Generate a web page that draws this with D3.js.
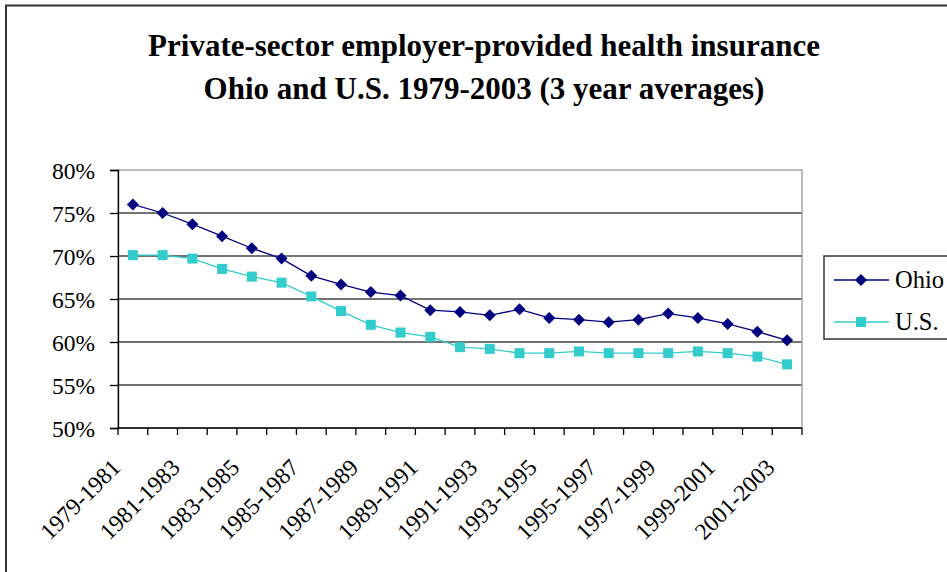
<!DOCTYPE html>
<html><head><meta charset="utf-8">
<script src="https://cdn.jsdelivr.net/npm/d3@7"></script>
<style>html,body{margin:0;padding:0;background:#fff;}svg{display:block;}</style>
</head><body>
<script>
const categories = ["1979-1981","1980-1982","1981-1983","1982-1984","1983-1985","1984-1986","1985-1987","1986-1988","1987-1989","1988-1990","1989-1991","1990-1992","1991-1993","1992-1994","1993-1995","1994-1996","1995-1997","1996-1998","1997-1999","1998-2000","1999-2001","2000-2002","2001-2003"];
const ohio = [76.0,75.0,73.7,72.3,70.9,69.7,67.7,66.7,65.8,65.4,63.7,63.5,63.1,63.8,62.8,62.6,62.3,62.6,63.3,62.8,62.1,61.2,60.2];
const us = [70.1,70.1,69.7,68.5,67.6,66.9,65.3,63.6,62.0,61.1,60.6,59.4,59.2,58.7,58.7,58.9,58.7,58.7,58.7,58.9,58.7,58.3,57.4];
const yTicks = [50,55,60,65,70,75,80];
const titleLines = ["Private-sector employer-provided health insurance","Ohio and U.S. 1979-2003 (3 year averages)"];
const seriesNames = ["Ohio","U.S."];

const W=947,H=572;
const font = "'Liberation Serif','Times New Roman',serif";
const svg = d3.select("body").append("svg").attr("width",W).attr("height",H);
svg.append("rect").attr("width",W).attr("height",H).attr("fill","#fff");
// outer border
svg.append("path").attr("d",`M6,${H+5} L6,5.5 L${W+5},5.5`).attr("fill","none").attr("stroke","#333").attr("stroke-width",2);

const L=118,R=802,T=170,B=428;
const x = d3.scaleBand().domain(categories).range([L,R]);
const y = d3.scaleLinear().domain([50,80]).range([B,T]);
const cx = d => x(d)+x.bandwidth()/2;

// gridlines
svg.append("g").selectAll("line").data(yTicks.filter(v=>v>50&&v<80)).join("line")
  .attr("x1",L).attr("x2",R).attr("y1",d=>y(d)).attr("y2",d=>y(d))
  .attr("stroke","#444").attr("stroke-width",1.3);
// plot border
svg.append("rect").attr("x",L).attr("y",T).attr("width",R-L).attr("height",B-T)
  .attr("fill","none").attr("stroke","#999").attr("stroke-width",1.3);

// y axis
const yAxis = d3.axisLeft(y).tickValues(yTicks).tickFormat(d=>d+"%").tickSize(8).tickPadding(15);
const gy = svg.append("g").attr("transform",`translate(${L},0)`).call(yAxis);
gy.select(".domain").attr("stroke","#000").attr("stroke-width",1.3);
gy.selectAll(".tick line").attr("stroke","#000").attr("stroke-width",1.3);
gy.selectAll("text").attr("font-family",font).attr("font-size",23.5).attr("fill","#000").attr("dy","0.34em");

// x axis
const gx = svg.append("g");
gx.append("line").attr("x1",L).attr("x2",R).attr("y1",B).attr("y2",B).attr("stroke","#000").attr("stroke-width",1.3);
const bounds = categories.map(c=>x(c)).concat([R]);
gx.selectAll("line.tk").data(bounds).join("line").attr("class","tk")
  .attr("x1",d=>d).attr("x2",d=>d).attr("y1",B).attr("y2",B+7).attr("stroke","#000").attr("stroke-width",1.3);
gx.selectAll("text").data(categories.filter((c,i)=>i%2===0)).join("text")
  .attr("transform",d=>`translate(${cx(d)-11},${B+41}) rotate(-45)`)
  .attr("text-anchor","end").attr("font-family",font).attr("font-size",23.5).attr("fill","#000")
  .text(d=>d);

// lines
const line = d3.line().x((d,i)=>cx(categories[i])).y(d=>y(d));
svg.append("path").datum(us).attr("d",line).attr("fill","none").attr("stroke","#33CCCC").attr("stroke-width",1.3);
svg.append("path").datum(ohio).attr("d",line).attr("fill","none").attr("stroke","#000080").attr("stroke-width",1.3);

const diamond = s=>`M0,${-s}L${s},0L0,${s}L${-s},0Z`;
svg.append("g").selectAll("rect").data(us).join("rect")
  .attr("x",(d,i)=>cx(categories[i])-5).attr("y",d=>y(d)-5).attr("width",10).attr("height",10).attr("fill","#33CCCC");
svg.append("g").selectAll("path").data(ohio).join("path")
  .attr("transform",(d,i)=>`translate(${cx(categories[i])},${y(d)})`).attr("d",diamond(6)).attr("fill","#000080");

// title
svg.append("g").selectAll("text").data(titleLines).join("text")
  .attr("x",484).attr("y",(d,i)=>56+i*43).attr("text-anchor","middle")
  .attr("font-family",font).attr("font-weight","bold").attr("font-size",31).attr("fill","#000").text(d=>d);

// legend
const lg = svg.append("g");
lg.append("rect").attr("x",824).attr("y",256).attr("width",140).attr("height",83).attr("fill","#fff").attr("stroke","#333").attr("stroke-width",1.5);
const lgY=[280,322], lgC=["#000080","#33CCCC"];
seriesNames.forEach((n,i)=>{
  lg.append("line").attr("x1",834).attr("x2",889).attr("y1",lgY[i]).attr("y2",lgY[i]).attr("stroke",lgC[i]).attr("stroke-width",1.3);
  if(i===0) lg.append("path").attr("transform",`translate(861,${lgY[i]})`).attr("d",diamond(6)).attr("fill",lgC[i]);
  else lg.append("rect").attr("x",856).attr("y",lgY[i]-5).attr("width",10).attr("height",10).attr("fill",lgC[i]);
  lg.append("text").attr("x",895).attr("y",lgY[i]).attr("dy","0.34em").attr("font-family",font).attr("font-size",24.5).attr("fill","#000").text(n);
});
</script>
</body></html>
